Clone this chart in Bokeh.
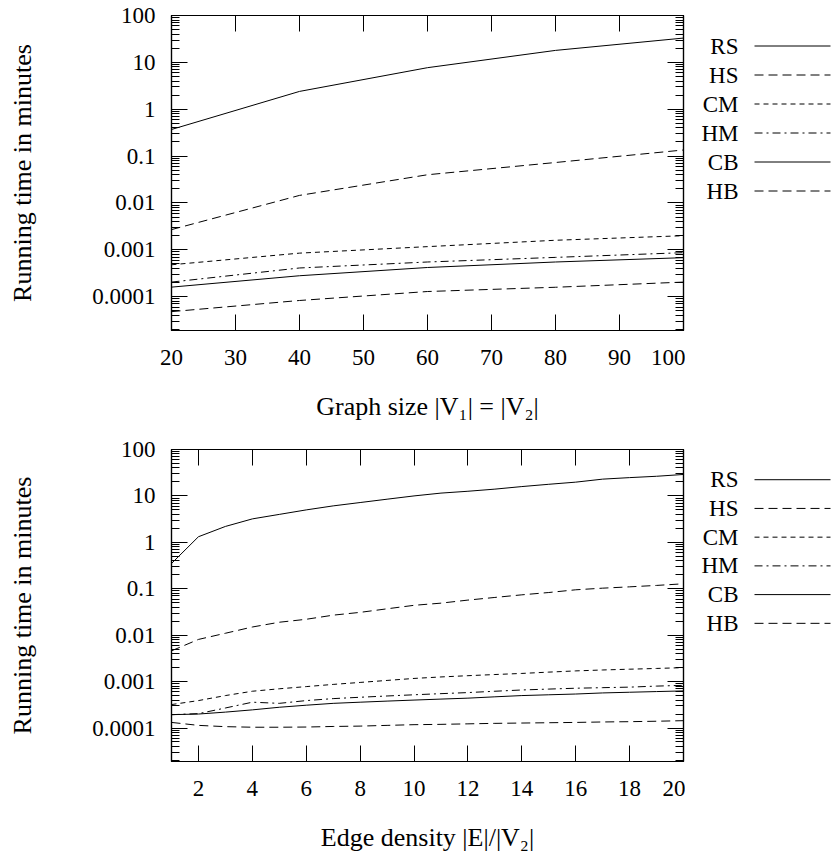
from bokeh.plotting import figure
from bokeh.models import FixedTicker, LinearAxis, LogAxis, Range1d
from bokeh.layouts import column, row
from bokeh.embed import file_html
from bokeh.resources import INLINE
from bokeh.core.properties import value

FONT = "Liberation Serif"

# ---------------- data ----------------
series_names = ["RS", "HS", "CM", "HM", "CB", "HB"]
series_dash = ["solid", "9 5", "5 4", "8 4 2 4", "solid", "9 5"]

size_x = [20, 40, 60, 80, 100]
rs_size = [0.37, 2.4, 7.7, 18, 33]
hs_size = [0.0027, 0.0145, 0.040, 0.073, 0.135]
cm_size = [0.00048, 0.00085, 0.00117, 0.0016, 0.0020]
hm_size = [0.000205, 0.00041, 0.00055, 0.00069, 0.00087]
cb_size = [0.00016, 0.00028, 0.00042, 0.00055, 0.00068]
hb_size = [4.8e-5, 8.3e-5, 0.000129, 0.000159, 0.000205]

dens_x = list(range(1, 21))
rs_dens = [0.35, 1.32, 2.2, 3.2, 4.0, 5.0, 6.1, 7.2, 8.5, 10, 11.5, 12.6, 14, 15.9,
           17.8, 19.8, 23, 24.8, 26.5, 29]
hs_dens = [0.0046, 0.0081, 0.011, 0.015, 0.019, 0.022, 0.027, 0.031, 0.037, 0.044,
           0.049, 0.057, 0.065, 0.074, 0.083, 0.095, 0.103, 0.11, 0.118, 0.128]
cm_dens = [0.00032, 0.00039, 0.0005, 0.00062, 0.0007, 0.00078, 0.00087, 0.00096,
           0.00106, 0.00117, 0.00126, 0.00134, 0.00142, 0.0015, 0.0016, 0.0017,
           0.00178, 0.00185, 0.00192, 0.002]
hm_dens = [0.000194, 0.000204, 0.00027, 0.00036, 0.00034, 0.00039, 0.00043, 0.00046,
           0.00049, 0.00052, 0.00055, 0.00058, 0.00062, 0.00066, 0.00069, 0.00072,
           0.00074, 0.00076, 0.0008, 0.00083]
cb_dens = [0.000194, 0.0002, 0.00022, 0.000246, 0.00028, 0.00031, 0.00034, 0.00036,
           0.00038, 0.0004, 0.00042, 0.00044, 0.00047, 0.0005, 0.00052, 0.00054,
           0.00057, 0.00059, 0.00061, 0.00063]
hb_dens = [0.000132, 0.000114, 0.000107, 0.000104, 0.000104, 0.000105, 0.000108,
           0.00011, 0.000114, 0.000118, 0.00012, 0.000123, 0.000126, 0.000128,
           0.00013, 0.000132, 0.000135, 0.000137, 0.00014, 0.000144]

size_ticks = [20, 30, 40, 50, 60, 70, 80, 90, 100]
dens_ticks = [2, 4, 6, 8, 10, 12, 14, 16, 18, 20]
y_ticks = [0.0001, 0.001, 0.01, 0.1, 1, 10, 100]
y_tick_labels = ["0.0001", "0.001", "0.01", "0.1", "1", "10", "100"]
y_minor = [m * 10.0 ** k for k in range(-5, 2) for m in range(2, 10)]

Y_MIN, Y_MAX = 1.9e-5, 100

# ---------------- styling helpers ----------------
TICK_FS = "23px"
LABEL_FS = "26px"
PLOT_W = 685
LEG_W = 146
FRAME_H = 315


def style_axis(ax, show_labels, minor=True):
    ax.axis_line_color = "black"
    ax.axis_line_width = 1.2
    ax.major_tick_in = 16
    ax.major_tick_out = 0
    ax.major_tick_line_color = "black"
    ax.major_tick_line_width = 1
    if minor:
        ax.minor_tick_in = 8
        ax.minor_tick_out = 0
        ax.minor_tick_line_color = "black"
        ax.minor_tick_line_width = 1
    else:
        ax.minor_tick_line_color = None
    ax.major_label_text_font = FONT
    if show_labels:
        ax.major_label_text_font_size = TICK_FS
        ax.major_label_text_color = "black"
    else:
        ax.major_label_text_font_size = "1px"
        ax.major_label_text_color = None
        ax.major_label_standoff = 0
    ax.axis_label_text_font = FONT
    ax.axis_label_text_font_size = LABEL_FS
    ax.axis_label_text_font_style = "normal"
    ax.axis_label_text_color = "black"


def make_plot(xs, ys_list, x_start, x_end, x_ticks, x_label, height, top):
    p = figure(width=PLOT_W, height=height, y_axis_type="log",
               x_range=Range1d(x_start, x_end), y_range=Range1d(Y_MIN, Y_MAX),
               min_border_left=171, min_border_right=2,
               min_border_top=top, min_border_bottom=height - top - FRAME_H,
               output_backend="svg", toolbar_location=None)
    p.grid.visible = False
    p.outline_line_color = "black"
    p.outline_line_width = 1.2
    p.background_fill_color = "white"
    p.border_fill_color = "white"

    xt = FixedTicker(ticks=x_ticks, minor_ticks=[])
    yt = FixedTicker(ticks=y_ticks, minor_ticks=y_minor)
    overrides = {t: lab for t, lab in zip(y_ticks, y_tick_labels)}

    xa = p.xaxis[0]
    xa.ticker = xt
    xa.axis_label = x_label
    style_axis(xa, True, minor=False)
    xa.major_label_standoff = 19
    xa.axis_label_standoff = 24

    ya = p.yaxis[0]
    ya.ticker = yt
    ya.major_label_overrides = overrides
    ya.axis_label = "Running time in minutes"
    style_axis(ya, True)
    ya.major_label_standoff = 16
    ya.axis_label_standoff = 52

    top_ax = LinearAxis(ticker=FixedTicker(ticks=x_ticks, minor_ticks=[]))
    style_axis(top_ax, False, minor=False)
    p.add_layout(top_ax, "above")
    right_ax = LogAxis(ticker=FixedTicker(ticks=y_ticks, minor_ticks=y_minor))
    style_axis(right_ax, False)
    p.add_layout(right_ax, "right")

    for ys, dash in zip(ys_list, series_dash):
        p.line(xs, ys, line_color="black", line_width=1.0, line_dash=dash)
    return p


def make_legend(fig_h):
    # the legend figure's frame is aligned with the neighbouring plot frame
    lg = figure(width=LEG_W, height=fig_h, x_range=Range1d(0, LEG_W),
                y_range=Range1d(0, FRAME_H), x_axis_location=None, y_axis_location=None,
                min_border_left=0, min_border_right=0, min_border_top=0, min_border_bottom=0,
                output_backend="svg", toolbar_location=None)
    lg.grid.visible = False
    lg.outline_line_color = None
    ys = [FRAME_H - (30.5 + 29.0 * i) for i in range(len(series_names))]
    lg.text(x=[53] * len(series_names), y=ys, text=series_names,
            text_align="right", text_baseline="middle",
            text_font=value(FONT), text_font_size="23px", text_color="black")
    for yv, dash in zip(ys, series_dash):
        lg.line(x=[69, LEG_W - 1], y=[yv, yv], line_color="black", line_width=1.0,
                line_dash=dash)
    return lg


TOP_H, BOT_H = 436, 418
p1 = make_plot(size_x, [rs_size, hs_size, cm_size, hm_size, cb_size, hb_size],
               20, 100, size_ticks, "Graph size |V\u2081| = |V\u2082|", TOP_H, 15)
p2 = make_plot(dens_x, [rs_dens, hs_dens, cm_dens, hm_dens, cb_dens, hb_dens],
               1, 20, dens_ticks, "Edge density |E|/|V\u2082|", BOT_H, 13)
l1 = make_legend(TOP_H)
l2 = make_legend(BOT_H)

layout = column(row(p1, l1), row(p2, l2))
open("out.html", "w").write(file_html(layout, INLINE))
